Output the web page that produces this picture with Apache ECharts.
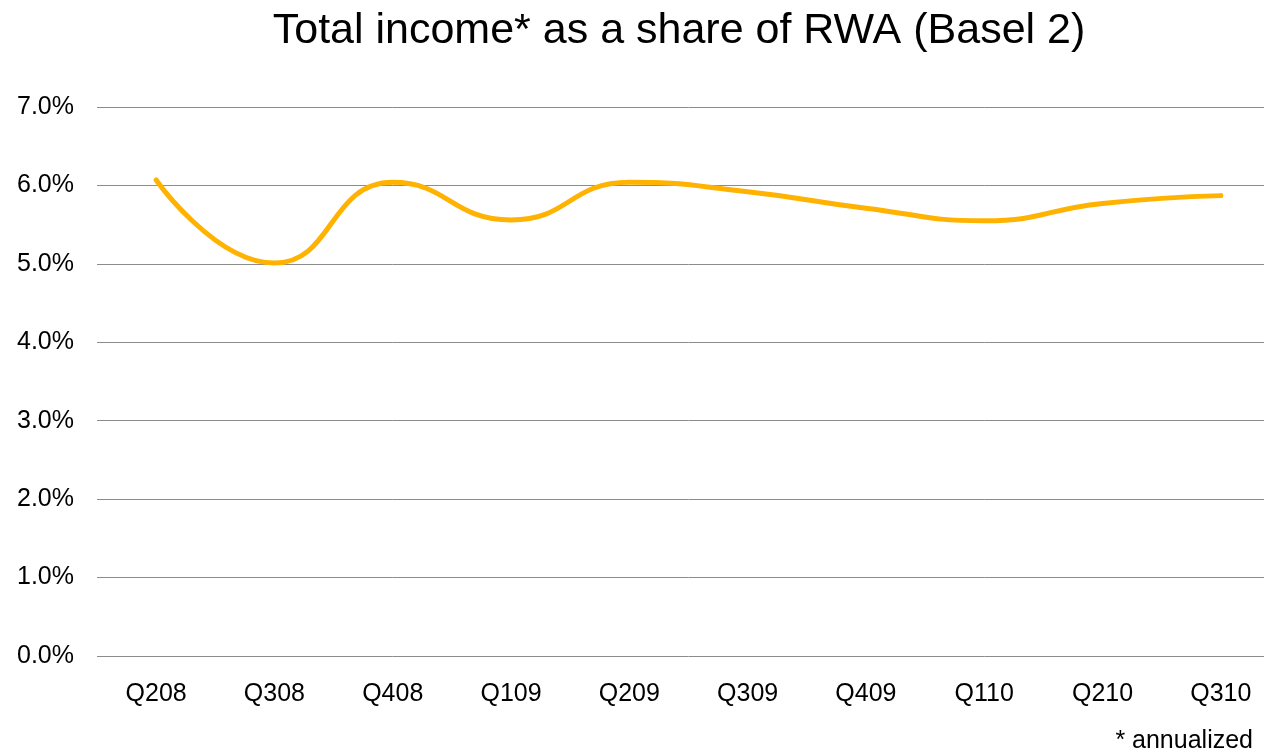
<!DOCTYPE html>
<html>
<head>
<meta charset="utf-8">
<script src="https://cdn.jsdelivr.net/npm/echarts@6/dist/echarts.min.js"></script>
<style>
html,body{margin:0;padding:0;background:#fff;overflow:hidden;width:1264px;height:755px;}
#chart{width:1280px;height:755px;}
</style>
</head>
<body>
<div id="chart"></div>
<script>
const categories = ['Q208','Q308','Q408','Q109','Q209','Q309','Q409','Q110','Q210','Q310'];
const incomeShare = [6.07, 5.01, 6.04, 5.56, 6.04, 5.92, 5.71, 5.55, 5.77, 5.87];
const yTicks = [0,1,2,3,4,5,6,7];

const chart = echarts.init(document.getElementById('chart'));
chart.setOption({
  animation: false,
  backgroundColor: '#ffffff',
  title: {
    text: 'Total income* as a share of RWA (Basel 2)',
    left: 674, top: 5, textAlign: 'center',
    textStyle: {fontFamily: 'Liberation Sans', fontSize: 43, fontWeight: 'normal', color: '#000'}
  },
  graphic: [{
    type: 'text', right: 27, top: 729,
    style: {text: '* annualized', font: '25px "Liberation Sans"', fill: '#000'}
  }],
  grid: {left: 97, right: 0, top: 107, bottom: 99, containLabel: false},
  xAxis: {
    type: 'category', data: categories, boundaryGap: true,
    axisLine: {show: false}, axisTick: {show: false},
    axisLabel: {fontFamily: 'Liberation Sans', fontSize: 25, color: '#000', margin: 26}
  },
  yAxis: {
    type: 'value', min: yTicks[0], max: yTicks[yTicks.length-1], interval: 1,
    axisLine: {show: false}, axisTick: {show: false},
    axisLabel: {fontFamily: 'Liberation Sans', fontSize: 25, color: '#000', margin: 23,
      padding: [3, 0, 0, 0],
      formatter: v => v.toFixed(1) + '%'},
    splitLine: {lineStyle: {color: '#8c8c8c', width: 1}}
  },
  series: [{
    type: 'line', data: incomeShare, smooth: 0.5, symbol: 'none',
    lineStyle: {color: '#FFB300', width: 5, cap: 'round'}
  }]
});
</script>
</body>
</html>
